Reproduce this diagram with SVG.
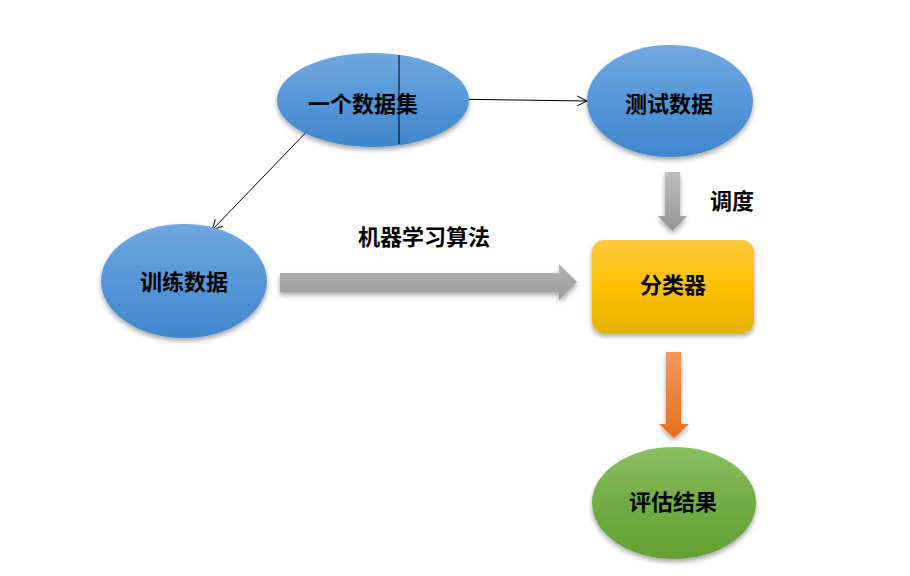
<svg xmlns="http://www.w3.org/2000/svg" width="910" height="576" viewBox="0 0 910 576">
  <defs>
    <linearGradient id="gBlue" x1="0" y1="0" x2="0" y2="1">
      <stop offset="0" stop-color="#72A7DE"/>
      <stop offset="0.5" stop-color="#5597D8"/>
      <stop offset="1" stop-color="#3F86CC"/>
    </linearGradient>
    <linearGradient id="gYellow" x1="0" y1="0" x2="0" y2="1">
      <stop offset="0" stop-color="#FFC93F"/>
      <stop offset="0.5" stop-color="#FFC000"/>
      <stop offset="1" stop-color="#E6B200"/>
    </linearGradient>
    <linearGradient id="gGreen" x1="0" y1="0" x2="0" y2="1">
      <stop offset="0" stop-color="#8CBF60"/>
      <stop offset="0.5" stop-color="#72AC45"/>
      <stop offset="1" stop-color="#64A033"/>
    </linearGradient>
    <linearGradient id="gGrayH" x1="0" y1="0" x2="0" y2="1">
      <stop offset="0" stop-color="#B5B5B5"/>
      <stop offset="1" stop-color="#999999"/>
    </linearGradient>
    <linearGradient id="gGrayV" x1="0" y1="0" x2="0" y2="1">
      <stop offset="0" stop-color="#BEBEBE"/>
      <stop offset="1" stop-color="#959595"/>
    </linearGradient>
    <linearGradient id="gOrange" x1="0" y1="0" x2="0" y2="1">
      <stop offset="0" stop-color="#F2985C"/>
      <stop offset="1" stop-color="#E86F1A"/>
    </linearGradient>
    <filter id="shadow" x="-20%" y="-20%" width="140%" height="150%">
      <feDropShadow dx="0" dy="3" stdDeviation="2.5" flood-color="#000" flood-opacity="0.35"/>
    </filter>
    <marker id="open" viewBox="0 0 12 12" refX="11" refY="6" markerWidth="12" markerHeight="12" markerUnits="userSpaceOnUse" orient="auto">
      <path d="M1,1 L11,6 L1,11" fill="none" stroke="#000" stroke-width="1"/>
    </marker>
    <style>
      .lbl { font-family: "Noto Sans CJK SC", "Liberation Sans", sans-serif; font-size: 22px; font-weight: bold; fill: #000; text-anchor: middle; dominant-baseline: central; }
      .thin { stroke: #000; stroke-width: 1; fill: none; marker-end: url(#open); }
    </style>
  </defs>
  <rect width="910" height="576" fill="#FFFFFF"/>

  <g id="connectors">
    <line class="thin" x1="444" y1="99" x2="587" y2="101"/>
    <line class="thin" x1="316" y1="122" x2="212" y2="230"/>
    <polygon id="arrow-train" points="280,273 559,273 559,264 577,282 559,300 559,292 280,292" fill="url(#gGrayH)" filter="url(#shadow)"/>
    <polygon id="arrow-tune" points="665,172 680,172 680,216 687,216 672.5,231 658,216 665,216" fill="url(#gGrayV)" filter="url(#shadow)"/>
    <polygon id="arrow-eval" points="666,352 681,352 681,424 689,424 674,438 659,424 666,424" fill="url(#gOrange)" filter="url(#shadow)"/>
    <text class="lbl" x="424" y="235">机器学习算法</text>
    <text class="lbl" x="732" y="199">调度</text>
  </g>

  <g id="node-dataset">
    <ellipse cx="373" cy="100" rx="96" ry="47" fill="url(#gBlue)" filter="url(#shadow)"/>
    <line x1="399" y1="55" x2="399" y2="144" stroke="#000" stroke-width="1"/>
    <text class="lbl" x="363" y="102">一个数据集</text>
  </g>

  <g id="node-test">
    <ellipse cx="670" cy="101" rx="83" ry="56" fill="url(#gBlue)" filter="url(#shadow)"/>
    <text class="lbl" x="669" y="102">测试数据</text>
  </g>

  <g id="node-train">
    <ellipse cx="184" cy="281" rx="83" ry="57" fill="url(#gBlue)" filter="url(#shadow)"/>
    <text class="lbl" x="184" y="280">训练数据</text>
  </g>

  <g id="node-classifier">
    <rect x="592" y="240" width="162" height="93" rx="12" ry="12" fill="url(#gYellow)" filter="url(#shadow)"/>
    <text class="lbl" x="673" y="283">分类器</text>
  </g>

  <g id="node-result">
    <ellipse cx="674" cy="503" rx="82" ry="56" fill="url(#gGreen)" filter="url(#shadow)"/>
    <text class="lbl" x="673" y="500">评估结果</text>
  </g>
</svg>
